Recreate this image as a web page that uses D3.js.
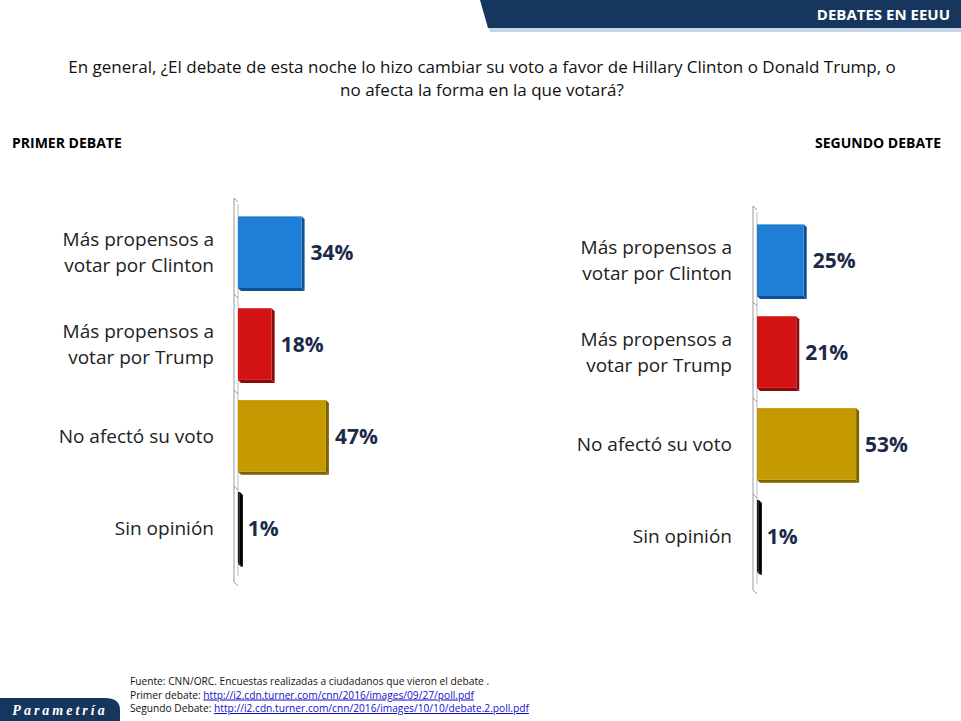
<!DOCTYPE html>
<html><head><meta charset="utf-8">
<script src="https://cdn.jsdelivr.net/npm/d3@7"></script>
<style>body{margin:0;background:#fff}svg{font-family:Calibri,Carlito,"Open Sans",sans-serif}</style>
</head><body><svg id="c" width="961" height="721"></svg>
<script>
const categories = [["Más propensos a","votar por Clinton"],["Más propensos a","votar por Trump"],["No afectó su voto"],["Sin opinión"]];
const primerValues = [34, 18, 47, 1];
const segundoValues = [25, 21, 53, 1];
const colors = ["#1f7fd6", "#d41414", "#c49a00", "#1a1a1a"];
const sideColors = ["#0f4f94", "#8a0a0a", "#7d6200", "#000"];
const svg = d3.select("#c");

// header
svg.append("path").attr("d","M482,6 L961,6 L961,32 L490,32 Z").attr("fill","#c7d6e6");
svg.append("path").attr("d","M480,0 L961,0 L961,28 L488,28 Z").attr("fill","#16365d");
svg.append("text").attr("x",950).attr("y",20).attr("text-anchor","end").attr("fill","#fff")
  .attr("font-weight","bold").attr("font-size",15).attr("font-family","'Open Sans',sans-serif").text("DEBATES EN EEUU");
const title = ["En general, ¿El debate de esta noche lo hizo cambiar su voto a favor de Hillary Clinton o Donald Trump, o","no afecta la forma en la que votará?"];
title.forEach((t,i)=>svg.append("text").attr("x",482).attr("y",73+i*23).attr("text-anchor","middle")
  .attr("font-size",17).attr("font-family","'Open Sans',sans-serif").attr("fill","#111").text(t));
svg.append("text").attr("x",12).attr("y",148).attr("font-weight","bold").attr("font-size",14).attr("font-family","'Open Sans',sans-serif").text("PRIMER DEBATE");
svg.append("text").attr("x",941).attr("y",148).attr("text-anchor","end").attr("font-weight","bold").attr("font-size",14).attr("font-family","'Open Sans',sans-serif").text("SEGUNDO DEBATE");

function chart(values, x0, y0, y1, labelRight){
  const x = d3.scaleLinear().domain([0,100]).range([x0, x0+187]);
  const y = d3.scaleBand().domain(d3.range(4)).range([y0,y1]).paddingInner(0.22).paddingOuter(0.2);
  const g = svg.append("g");
  g.append("line").attr("x1",x0-4).attr("x2",x0-4).attr("y1",y0).attr("y2",y1).attr("stroke","#999");
  g.append("line").attr("x1",x0).attr("x2",x0).attr("y1",y0+6).attr("y2",y1-6).attr("stroke","#bbb");
  d3.range(5).forEach(i=>{const yy=y0+(y1-y0)*i/4;
    g.append("line").attr("x1",x0-4).attr("x2",x0).attr("y1",yy).attr("y2",yy+4).attr("stroke","#999");});
  values.forEach((v,i)=>{
    const yy=y(i), h=y.bandwidth(), w=x(v)-x0;
    g.append("path").attr("d",`M${x0+w},${yy} l3,3 v${h} l-3,-3 Z`).attr("fill",sideColors[i]);
    g.append("path").attr("d",`M${x0},${yy+h} l3,3 h${w} l-3,-3 Z`).attr("fill",sideColors[i]);
    g.append("rect").attr("x",x0).attr("y",yy).attr("width",w).attr("height",h).attr("fill",colors[i]);
    g.append("text").attr("x",x(v)+(v<5?8:9)).attr("y",yy+h/2+8).attr("font-size",21).attr("font-weight","bold")
      .attr("font-family","'Open Sans',sans-serif").attr("fill","#1c2a4a").text(v+"%");
    const lines=categories[i];
    lines.forEach((t,j)=>g.append("text").attr("x",labelRight).attr("y",yy+h/2+7+(j-(lines.length-1)/2)*26)
      .attr("text-anchor","end").attr("font-size",19).attr("font-family","'Open Sans',sans-serif").attr("fill","#222").text(t));
  });
}
chart(primerValues, 238, 198, 582, 214);
chart(segundoValues, 757, 206, 590, 732);

const foot=[["Fuente: CNN/ORC. Encuestas realizadas a ciudadanos que vieron el debate .",""],["Primer debate: ","http://i2.cdn.turner.com/cnn/2016/images/09/27/poll.pdf"],["Segundo Debate: ","http://i2.cdn.turner.com/cnn/2016/images/10/10/debate.2.poll.pdf"]];
foot.forEach((f,i)=>{const t=svg.append("text").attr("x",130).attr("y",685+i*13.5).attr("font-size",10.2).attr("font-family","'Liberation Sans Narrow','Open Sans',sans-serif").attr("fill","#111");
  t.append("tspan").text(f[0]); if(f[1]) t.append("tspan").attr("fill","#1010cc").attr("text-decoration","underline").text(f[1]);});
svg.append("path").attr("d","M0,698 L105,698 Q120,698 120,710 L120,721 L0,721 Z").attr("fill","#16365d");
svg.append("text").attr("x",60).attr("y",715).attr("text-anchor","middle").attr("fill","#fff").attr("font-style","italic")
  .attr("font-weight","bold").attr("font-size",14).attr("letter-spacing",3).attr("font-family","serif").text("Parametría");
</script></body></html>
